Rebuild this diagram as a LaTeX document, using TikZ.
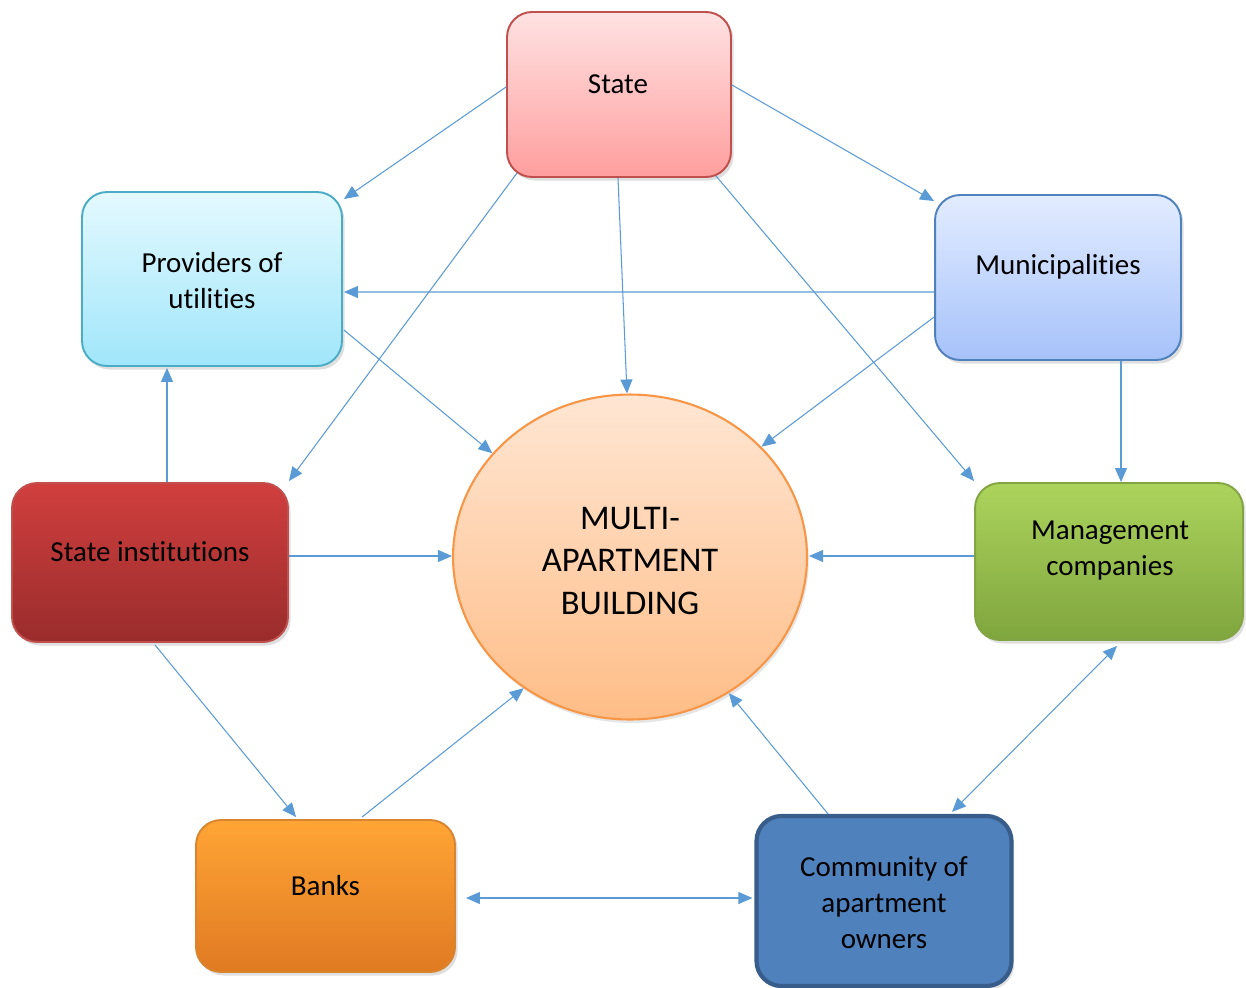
\documentclass[tikz,border=0pt]{standalone}
\usepackage{fontspec}
\setmainfont[Ligatures=NoCommon]{Carlito}
\usetikzlibrary{arrows.meta,shadows,calc,shapes.geometric}
\definecolor{arr}{HTML}{5B9BD5}
\definecolor{stT}{HTML}{FFE2E2}\definecolor{stB}{HTML}{FF9E9E}\definecolor{stD}{HTML}{C0504D}
\definecolor{prT}{HTML}{E4F9FF}\definecolor{prB}{HTML}{A0E6FA}\definecolor{prD}{HTML}{4BACC6}
\definecolor{muT}{HTML}{E2ECFF}\definecolor{muB}{HTML}{A6C2FA}\definecolor{muD}{HTML}{4F81BD}
\definecolor{inT}{HTML}{D03F3E}\definecolor{inB}{HTML}{9A2C2C}\definecolor{inD}{HTML}{C0504D}
\definecolor{mgT}{HTML}{ACD45C}\definecolor{mgB}{HTML}{7FA53E}\definecolor{mgD}{HTML}{83A443}
\definecolor{bkT}{HTML}{FFA535}\definecolor{bkB}{HTML}{E07A22}\definecolor{bkD}{HTML}{D9852F}
\definecolor{cmF}{HTML}{4F81BD}\definecolor{cmD}{HTML}{385D8A}
\definecolor{ciT}{HTML}{FFE6D3}\definecolor{ciB}{HTML}{FFBD87}\definecolor{ciD}{HTML}{F79646}
\begin{document}
\begin{tikzpicture}[x=0.02cm,y=-0.02cm,
  box/.style={rectangle, rounded corners=0.5cm, line width=1.1pt, inner sep=0pt,
    drop shadow={opacity=0.25, shadow xshift=1.5pt, shadow yshift=-2pt}},
  txt/.style={align=center, font=\fontsize{16.5}{20.5}\selectfont, inner sep=0pt},
  con/.style={draw=arr, line width=0.6pt, -{Triangle[length=0.28cm,width=0.24cm]}},
  biarr/.style={draw=arr, line width=0.6pt, {Triangle[length=0.28cm,width=0.24cm]}-{Triangle[length=0.28cm,width=0.24cm]}}]
\useasboundingbox (0,0) rectangle (1246,987);

% boxes
\node[box, top color=stT, bottom color=stB, draw=stD, minimum width=4.48cm, minimum height=3.3cm] (state) at (619,94.5) {};
\node[box, top color=prT, bottom color=prB, draw=prD, minimum width=5.2cm, minimum height=3.48cm] (prov) at (212,279) {};
\node[box, top color=muT, bottom color=muB, draw=muD, minimum width=4.92cm, minimum height=3.3cm] (muni) at (1058,277.5) {};
\node[box, top color=inT, bottom color=inB, draw=inD, minimum width=5.52cm, minimum height=3.18cm] (inst) at (150,562.5) {};
\node[box, top color=mgT, bottom color=mgB, draw=mgD, minimum width=5.36cm, minimum height=3.14cm] (mgmt) at (1109,561.5) {};
\node[box, top color=bkT, bottom color=bkB, draw=bkD, minimum width=5.18cm, minimum height=3.04cm] (banks) at (325.5,896) {};
\node[box, fill=cmF, draw=cmD, line width=2.4pt, minimum width=5.1cm, minimum height=3.4cm] (comm) at (884,901) {};
\node[ellipse, top color=ciT, bottom color=ciB, draw=ciD, line width=1.2pt, inner sep=0pt,
  minimum width=7.08cm, minimum height=6.5cm,
  drop shadow={opacity=0.2, shadow xshift=1pt, shadow yshift=-2pt}] (circ) at (630,557) {};
\node[txt, font=\fontsize{19.7}{24.2}\selectfont] (tcirc) at (630,561) {MULTI-\\APARTMENT\\BUILDING};

% texts
\node[txt] (tstate) at (618,84) {State};
\node[txt] (tprov) at (212,281) {Providers of\\utilities};
\node[txt] (tmuni) at (1058,267) {Municipalities};
\node[txt] (tinst) at (150,552) {State institutions};
\node[txt] (tmgmt) at (1110,551) {Management\\companies};
\node[txt] (tbanks) at (325.5,886) {Banks};
\node[txt] (tcomm) at (884,903) {Community of\\apartment\\owners};

% connectors
\draw[con] ($(state.west)+(0,-7.5)$) -- ($(prov.north east)+(1,8)$);
\draw[con] ($(state.east)+(0,-9.5)$) -- ($(muni.north west)+(0,7)$);
\draw[con] ($(state.south west)+(11,-5)$) -- ($(inst.north east)+(0,-1)$);
\draw[con] ($(state.south)+(-1,0)$) -- ($(circ.north)+(-3,0)$);
\draw[con] ($(state.south east)+(-16,-2)$) -- ($(mgmt.north west)+(0,-1)$);
\draw[con] ($(muni.west)+(0,14.5)$) -- ($(prov.east)+(1,13)$);
\draw[con] ($(muni.west)+(0,39.5)$) -- (circ.40);
\draw[con] ($(muni.south)+(63,0)$) -- ($(mgmt.north)+(12,0)$);
\draw[con] ($(prov.east)+(1,51)$) -- (circ.143);
\draw[con] ($(inst.north)+(17,0)$) -- ($(prov.south)+(-45,1)$);
\draw[con] ($(inst.east)+(0,-6.5)$) -- ($(circ.west)+(0,-1)$);
\draw[con] ($(mgmt.west)+(0,-5.5)$) -- ($(circ.east)+(1,-1)$);
\draw[con] ($(inst.south)+(5,2)$) -- ($(banks.north west)+(101,-2)$);
\draw[con] ($(banks.north)+(36.5,-2)$) -- (circ.231);
\draw[biarr] ($(banks.east)+(10,2)$) -- ($(comm.west)+(-2,-3)$);
\draw[con] ($(comm.north)+(-56,0)$) -- (circ.306);
\draw[biarr] ($(mgmt.south)+(8,5)$) -- ($(comm.north)+(68,-2)$);
\end{tikzpicture}
\end{document}
